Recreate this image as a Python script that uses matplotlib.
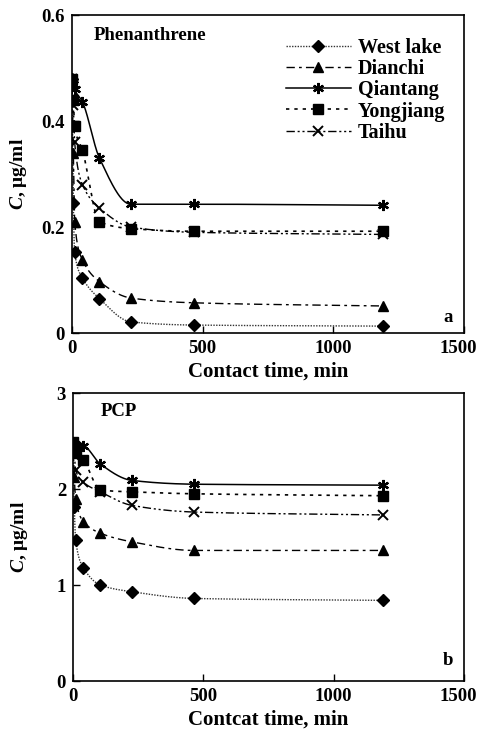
import numpy as np
import matplotlib
matplotlib.use("Agg")
import matplotlib.pyplot as plt
import matplotlib.transforms as mtransforms

# ---------------- data ----------------
series_names = ["West lake", "Dianchi", "Qiantang", "Yongjiang", "Taihu"]

time_a = [0, 5, 10, 40, 105, 225, 465, 1190]
phen_west = [0.48, 0.245, 0.153, 0.104, 0.065, 0.021, 0.015, 0.013]
phen_dianchi = [0.48, 0.34, 0.21, 0.138, 0.097, 0.066, 0.057, 0.051]
phen_qiantang = [0.48, 0.47, 0.46, 0.436, 0.33, 0.243, 0.243, 0.241]
phen_yongjiang = [0.48, 0.44, 0.39, 0.345, 0.21, 0.197, 0.192, 0.192]
phen_taihu = [0.48, 0.43, 0.36, 0.28, 0.236, 0.2, 0.19, 0.186]

time_b = [0, 5, 10, 40, 105, 225, 465, 1190]
pcp_west = [2.45, 1.81, 1.47, 1.18, 1.0, 0.93, 0.86, 0.84]
pcp_dianchi = [2.45, 2.12, 1.9, 1.66, 1.54, 1.45, 1.36, 1.36]
pcp_qiantang = [2.47, 2.47, 2.46, 2.45, 2.26, 2.09, 2.05, 2.04]
pcp_yongjiang = [2.49, 2.45, 2.37, 2.3, 1.99, 1.97, 1.95, 1.93]
pcp_taihu = [2.45, 2.35, 2.2, 2.07, 1.97, 1.83, 1.76, 1.73]

# ---------------- style ----------------
plt.rcParams['font.family'] = ['Liberation Serif', 'DejaVu Serif']
plt.rcParams['mathtext.fontset'] = 'custom'
plt.rcParams['mathtext.it'] = 'Liberation Serif:italic:bold'
plt.rcParams['mathtext.rm'] = 'Liberation Serif:bold'
FS_TICK = 13.5
FS_LAB = 15
FS_YLAB = 14
FS_TXT = 13.5
FS_LEG = 14.5

styles = [
    dict(marker='D', ls=(0, (1, 1)), color='#333333', lw=1.0, ms=6),
    dict(marker='^', ls=(0, (6, 3, 2, 3)), color='black', lw=1.0, ms=7),
    dict(marker=(6, 2, 0), ls='-', color='black', lw=1.1, ms=8, mew=1.6),
    dict(marker='s', ls=(0, (2, 3)), color='black', lw=1.2, ms=6.5),
    dict(marker='x', ls=(0, (6, 2, 1.5, 2, 1.5, 2)), color='black', lw=1.0, ms=7, mew=1.4),
]


def pchip(x, y, xs):
    x = np.asarray(x, float)
    y = np.asarray(y, float)
    h = np.diff(x)
    d = np.diff(y) / h
    n = len(x)
    m = np.zeros(n)
    for k in range(1, n - 1):
        if d[k - 1] * d[k] > 0:
            w1 = 2 * h[k] + h[k - 1]
            w2 = h[k] + 2 * h[k - 1]
            m[k] = (w1 + w2) / (w1 / d[k - 1] + w2 / d[k])
    m[0] = d[0]
    m[-1] = d[-1]
    idx = np.clip(np.searchsorted(x, xs) - 1, 0, n - 2)
    t = (xs - x[idx]) / h[idx]
    h00 = 2 * t**3 - 3 * t**2 + 1
    h10 = t**3 - 2 * t**2 + t
    h01 = -2 * t**3 + 3 * t**2
    h11 = t**3 - t**2
    return h00 * y[idx] + h10 * h[idx] * m[idx] + h01 * y[idx + 1] + h11 * h[idx] * m[idx + 1]


def draw(ax, t, data):
    handles = []
    for name, vals, st in zip(series_names, data, styles):
        xs = np.concatenate([np.linspace(t[i], t[i + 1], 60, endpoint=False) for i in range(len(t) - 1)] + [np.array([t[-1]])])
        ys = pchip(t, vals, xs)
        ax.plot(xs, ys, ls=st['ls'], color=st['color'], lw=st['lw'])
        ax.plot(t, vals, ls='none', marker=st['marker'], color='black', ms=st['ms'],
                mew=st.get('mew', 1.0))
        h, = ax.plot([], [], ls=st['ls'], color=st['color'], lw=st['lw'], marker=st['marker'],
                     ms=st['ms'], mew=st.get('mew', 1.0), mfc='black', mec='black')
        handles.append(h)
    return handles


def style_axes(ax, fig):
    ax.set_xlim(0, 1500)
    ax.set_xticks([0, 500, 1000, 1500])
    ax.tick_params(direction='in', length=5, width=1, labelsize=FS_TICK, top=False, right=False, pad=5)
    for lab in ax.get_xticklabels() + ax.get_yticklabels():
        lab.set_fontweight('bold')
    last = ax.get_xticklabels()[-1]
    last.set_transform(last.get_transform() + mtransforms.ScaledTranslation(-4 / 72, 0, fig.dpi_scale_trans))
    for sp in ax.spines.values():
        sp.set_linewidth(1.2)
    ax.yaxis.set_label_coords(-0.11, 0.5)


fig = plt.figure(figsize=(4.8, 7.32), dpi=100)

# top panel
ax1 = fig.add_axes([72 / 480, 1 - 333 / 732, (464 - 72) / 480, (333 - 15) / 732])
h = draw(ax1, time_a, [phen_west, phen_dianchi, phen_qiantang, phen_yongjiang, phen_taihu])
ax1.set_ylim(0, 0.6)
ax1.set_yticks([0, 0.2, 0.4, 0.6])
ax1.set_yticklabels(['0', '0.2', '0.4', '0.6'])
style_axes(ax1, fig)
ax1.set_xlabel('Contact time, min', fontsize=FS_LAB, fontweight='bold', labelpad=3)
ax1.set_ylabel(r'$C$, μg/ml', fontsize=FS_YLAB, fontweight='bold')
ax1.text(0.055, 0.935, 'Phenanthrene', transform=ax1.transAxes, fontsize=FS_TXT, fontweight='bold', va='center')
ax1.text(0.96, 0.05, 'a', transform=ax1.transAxes, fontsize=FS_TXT, fontweight='bold', ha='center', va='center')
leg = ax1.legend(h, series_names, loc='upper right', bbox_to_anchor=(0.998, 0.985), frameon=False,
                 prop={'family': 'Liberation Serif', 'weight': 'bold', 'size': FS_LEG},
                 handlelength=3.2, handletextpad=0.35, labelspacing=0.06)

# bottom panel
ax2 = fig.add_axes([73 / 480, 1 - 681 / 732, (464 - 73) / 480, (681 - 393) / 732])
draw(ax2, time_b, [pcp_west, pcp_dianchi, pcp_qiantang, pcp_yongjiang, pcp_taihu])
ax2.set_ylim(0, 3)
ax2.set_yticks([0, 1, 2, 3])
style_axes(ax2, fig)
ax2.set_xlabel('Contcat time, min', fontsize=FS_LAB, fontweight='bold', labelpad=3)
ax2.set_ylabel(r'$C$, μg/ml', fontsize=FS_YLAB, fontweight='bold')
ax2.text(0.07, 0.935, 'PCP', transform=ax2.transAxes, fontsize=FS_TXT, fontweight='bold', va='center')
ax2.text(0.96, 0.07, 'b', transform=ax2.transAxes, fontsize=FS_TXT, fontweight='bold', ha='center', va='center')

fig.savefig('out.png', dpi=100)
